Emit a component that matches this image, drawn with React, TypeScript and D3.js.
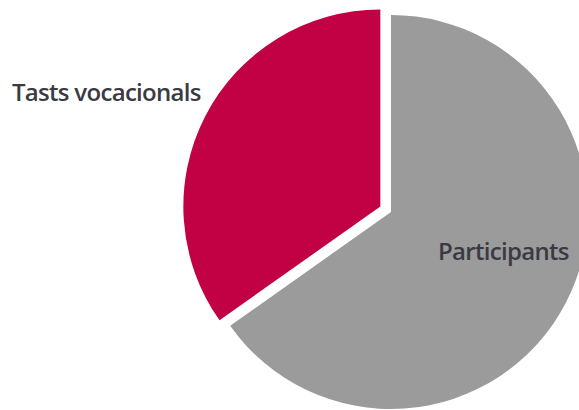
import React from "react";
import * as d3 from "d3";

const categories = ["Participants", "Tasts vocacionals"];
const values = [65.2, 34.8];
const colors = ["#9B9B9B", "#C20044"];
const explode = [0, 12];

const W = 579, H = 410;
const cx = 391, cy = 212, R = 197;

export default function App() {
  const pie = d3.pie<number>().sort(null).startAngle(0).endAngle(2 * Math.PI);
  const arcs = pie(values);
  const arcGen = d3.arc<d3.PieArcDatum<number>>().innerRadius(0).outerRadius(R);
  const labelPos = [
    { x: cx + 47, y: cy + 48, anchor: "start" },
    { x: 12, y: 101, anchor: "start" },
  ];
  return (
    <svg width={W} height={H} style={{ position: "absolute", left: 0, top: 0, background: "#fff" }}>
      <g transform={`translate(${cx},${cy})`}>
        {arcs.map((a, i) => {
          const mid = (a.startAngle + a.endAngle) / 2;
          const dx = Math.sin(mid) * explode[i];
          const dy = -Math.cos(mid) * explode[i];
          return (
            <path key={i} d={arcGen(a) || ""} fill={colors[i]} transform={`translate(${dx},${dy})`} />
          );
        })}
      </g>
      {categories.map((c, i) => (
        <text
          key={c}
          x={labelPos[i].x}
          y={labelPos[i].y}
          textAnchor={labelPos[i].anchor}
          fontFamily="'Open Sans', sans-serif"
          fontSize={24}
          fontWeight={600}
          letterSpacing={-0.7}
          fill="#3a3a42"
        >
          {c}
        </text>
      ))}
    </svg>
  );
}
